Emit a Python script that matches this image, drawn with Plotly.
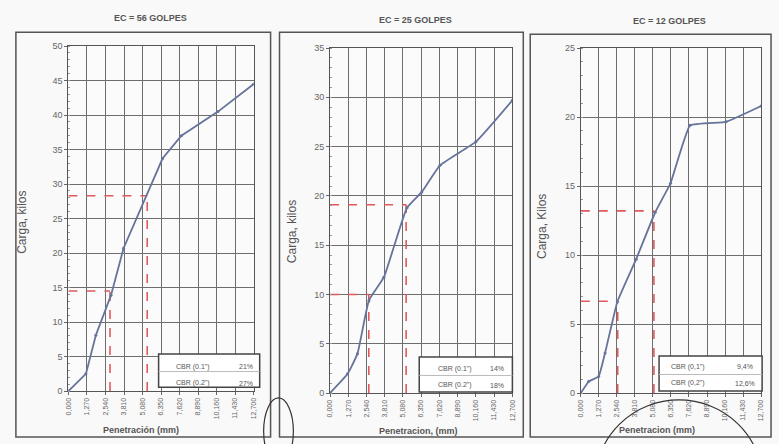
import plotly.graph_objects as go

W, H = 779, 444

# ---- data ----
pen_ticks = [0.0, 1.27, 2.54, 3.81, 5.08, 6.35, 7.62, 8.89, 10.16, 11.43, 12.70]
pen_tick_text = ["0,000", "1,270", "2,540", "3,810", "5,080", "6,350",
                 "7,620", "8,890", "10,160", "11,430", "12,700"]

pen_56 = [0, 1.2, 1.88, 2.92, 3.78, 6.45, 7.74, 10.25, 12.7]
load_56 = [0, 2.5, 8.1, 13.9, 20.7, 33.7, 37.0, 40.5, 44.5]
cbr_pen_56 = [2.85, 5.4]
cbr_load_56 = [14.5, 28.3]
cbr_text_56 = ["21%", "27%"]

pen_25 = [0, 1.22, 1.91, 2.71, 3.75, 5.36, 6.39, 7.66, 10.16, 12.7]
load_25 = [0, 1.95, 4.0, 9.4, 11.75, 18.8, 20.4, 23.1, 25.5, 29.7]
cbr_pen_25 = [2.7, 5.3]
cbr_load_25 = [10.0, 19.1]
cbr_text_25 = ["14%", "18%"]

pen_12 = [0, 0.57, 1.26, 1.71, 2.57, 3.9, 5.24, 6.32, 7.7, 10.22, 12.7]
load_12 = [0, 0.85, 1.2, 2.9, 6.6, 9.7, 13.1, 15.2, 19.4, 19.65, 20.8]
cbr_pen_12 = [2.6, 5.15]
cbr_load_12 = [6.65, 13.2]
cbr_text_12 = ["9,4%", "12,6%"]

titles = ["EC = 56 GOLPES", "EC = 25 GOLPES", "EC = 12 GOLPES"]
ytitles = ["Carga, kilos", "Carga, kilos", "Carga, Kilos"]
xtitles = ["Penetración (mm)", "Penetracion, (mm)", "Penetracion (mm)"]
cbr_labels = [["CBR (0.1\")", "CBR (0.2\")"], ["CBR (0.1\")", "CBR (0.2\")"],
              ["CBR (0,1\")", "CBR (0,2\")"]]
ymax = [50, 35, 25]
smooth = [0.0, 0.4, 0.3]

# ---- layout helpers (pixel positions) ----
def px(x):
    return x / W

def py(y):
    return 1 - y / H

plots = [
    dict(x0=65, x1=252, y0=395, y1=42, frame=(12, 28, 269, 442), title=(148, 13),
         ytit=(18, 222), xtit=(138, 435), box=(156, 357, 258, 391), row=(370, 387),
         col=(191, 244)),
    dict(x0=329, x1=513, y0=397, y1=44, frame=(278, 28, 524, 442), title=(415, 15),
         ytit=(290, 232), xtit=(418, 436), box=(419, 360, 513, 396), row=(372, 389),
         col=(455, 497)),
    dict(x0=582, x1=764, y0=397, y1=44, frame=(531, 30, 774, 442), title=(672, 16),
         ytit=(543, 227), xtit=(659, 435), box=(661, 359, 765, 395), row=(370, 387),
         col=(690, 748)),
]

series = [(pen_56, load_56, cbr_pen_56, cbr_load_56, cbr_text_56),
          (pen_25, load_25, cbr_pen_25, cbr_load_25, cbr_text_25),
          (pen_12, load_12, cbr_pen_12, cbr_load_12, cbr_text_12)]

line_col = "#66739a"
red = "#e0595c"
grid = "#6e6e6e"
FONT = "Liberation Sans"

fig = go.Figure()
shapes = []
annos = []
layout = {}

def note(x, y, text, size, **kw):
    d = dict(x=px(x), y=py(y), xref="paper", yref="paper", text=text, showarrow=False,
             xanchor="center", yanchor="middle",
             font=dict(size=size, color="#555", family=FONT))
    d.update(kw)
    annos.append(d)

for i, (p, (pen, load, cpx, cpy, ctext)) in enumerate(zip(plots, series)):
    n = "" if i == 0 else str(i + 1)
    xa, ya = "x" + n, "y" + n
    # red CBR guide lines
    for xv, yv in zip(cpx, cpy):
        fig.add_trace(go.Scatter(x=[0, xv], y=[yv, yv], mode="lines", xaxis=xa, yaxis=ya,
                                 line=dict(color=red, width=1.6, dash="dash"),
                                 showlegend=False, hoverinfo="skip"))
        fig.add_trace(go.Scatter(x=[xv, xv], y=[0, yv], mode="lines", xaxis=xa, yaxis=ya,
                                 line=dict(color=red, width=1.6, dash="dash"),
                                 showlegend=False, hoverinfo="skip"))
    lshape = dict(shape="spline", smoothing=smooth[i]) if smooth[i] > 0 else dict(shape="linear")
    fig.add_trace(go.Scatter(x=pen, y=load, mode="lines+markers", xaxis=xa, yaxis=ya,
                             line=dict(color=line_col, width=1.8, **lshape),
                             marker=dict(size=3, color=line_col), showlegend=False))

    layout["xaxis" + n] = dict(
        domain=[px(p["x0"]), px(p["x1"])], anchor=ya, range=[0, 12.7],
        tickvals=pen_ticks, ticktext=pen_tick_text, tickangle=-90,
        tickfont=dict(size=7, color="#666", family=FONT),
        showgrid=True, gridcolor=grid, gridwidth=1, zeroline=False,
        showline=True, linecolor="#555", linewidth=1, mirror=True,
        ticks="outside", ticklen=3, tickcolor="#666")
    layout["yaxis" + n] = dict(
        domain=[py(p["y0"]), py(p["y1"])], anchor=xa, range=[0, ymax[i]], dtick=5,
        tickfont=dict(size=9, color="#666", family=FONT),
        showgrid=True, gridcolor=grid, gridwidth=1, zeroline=False,
        showline=True, linecolor="#555", linewidth=1, mirror=True,
        ticks="outside", ticklen=3, tickcolor="#666",
        minor=dict(ticks="inside", ticklen=2, dtick=1, tickcolor="#999"))

    fx0, fy0, fx1, fy1 = p["frame"]
    shapes.append(dict(type="rect", xref="paper", yref="paper",
                       x0=px(fx0), x1=px(fx1), y0=py(fy1), y1=py(fy0),
                       line=dict(color="#555", width=1.5)))
    bx0, by0, bx1, by1 = p["box"]
    shapes.append(dict(type="rect", xref="paper", yref="paper",
                       x0=px(bx0), x1=px(bx1), y0=py(by1), y1=py(by0),
                       line=dict(color="#444", width=1.5), fillcolor="white"))
    shapes.append(dict(type="line", xref="paper", yref="paper",
                       x0=px(bx0), x1=px(bx1), y0=py((by0 + by1) / 2 + 1), y1=py((by0 + by1) / 2 + 1),
                       line=dict(color="#bbb", width=1)))
    for r in range(2):
        note(p["col"][0], p["row"][r], cbr_labels[i][r], 7)
        note(p["col"][1], p["row"][r], ctext[r], 7)
    note(p["title"][0], p["title"][1], "<b>" + titles[i] + "</b>", 9)
    note(p["ytit"][0], p["ytit"][1], ytitles[i], 12, textangle=-90)
    note(p["xtit"][0], p["xtit"][1], "<b>" + xtitles[i] + "</b>", 9)

# stamp marks (hand-drawn circles on the scan)
shapes.append(dict(type="circle", xref="paper", yref="paper",
                   x0=px(596), x1=px(766), y0=py(575), y1=py(404),
                   line=dict(color="#333", width=1.2)))
shapes.append(dict(type="circle", xref="paper", yref="paper",
                   x0=px(262), x1=px(292), y0=py(470), y1=py(402),
                   line=dict(color="#333", width=1.2)))

fig.update_layout(width=W, height=H, margin=dict(l=0, r=0, t=0, b=0),
                  paper_bgcolor="#f9f9f9", plot_bgcolor="#fbfbfb",
                  shapes=shapes, annotations=annos, showlegend=False,
                  font=dict(family=FONT), **layout)

fig.write_html("out.html", config={"displayModeBar": False},
               post_script="document.body.style.margin='0';document.body.style.overflow='hidden';")
